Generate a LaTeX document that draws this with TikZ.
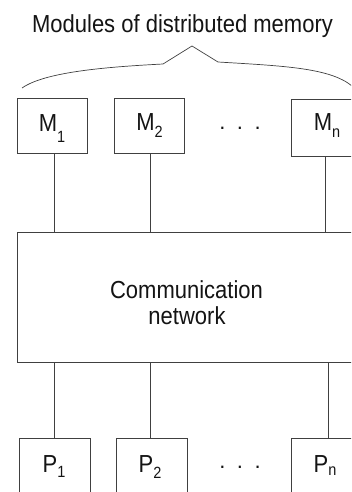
\documentclass[tikz,border=0pt]{standalone}
\usepackage{fontspec}
\usepackage{graphicx}
\setmainfont{Liberation Sans}
\definecolor{linec}{HTML}{404040}
\definecolor{textc}{HTML}{141414}
\newcommand{\tallt}[1]{\scalebox{1}[1.12]{#1}}
\newcommand{\lblsub}[3]{\tallt{#1}\raisebox{-#3pt}{\tallt{\fontsize{14.5}{14.5}\selectfont #2}}}
\tikzset{
  box/.style={draw=linec, line width=0.8pt, inner sep=0pt, minimum width=70pt, minimum height=55pt},
  netbox/.style={draw=linec, line width=0.8pt, inner sep=0pt},
  wire/.style={draw=linec, line width=0.8pt},
  lbl/.style={anchor=base, inner sep=0pt, text=textc, font=\fontsize{22}{26}\selectfont},
  dotsrow/.style={anchor=base, inner sep=0pt, text=textc, font=\fontsize{22}{26}\selectfont}
}
\begin{document}
\begin{tikzpicture}[x=1pt,y=-1pt]
\useasboundingbox (0,0) rectangle (351,492);
\clip (0,0) rectangle (351,492);
% title and brace
\node[lbl] (title) at (182.5,33) {\tallt{Modules of distributed memory}};
\draw[wire, line width=0.7pt] (22,88) .. controls (45,72) and (105,67) .. (163,64) -- (192,46) -- (218,62) .. controls (285,66) and (330,68) .. (352,86);
% memory modules
\node[box, minimum height=54.7pt] (M1) at (52.7,125.65) {};
\node[box, minimum width=70.5pt, minimum height=54.5pt] (M2) at (149.25,125.75) {};
\node[box, minimum width=71pt, minimum height=57pt] (Mn) at (326.5,127.5) {};
\node[lbl] (M1t) at (52,131.5) {\lblsub{M}{1}{11}};
\node[lbl] (M2t) at (149.5,131) {\lblsub{M}{2}{7}};
\node[lbl] (Mnt) at (327,130.5) {\lblsub{M}{n}{7}};
\node[dotsrow] (mdots) at (240,129.5) {.\hspace{11.5pt}.\hspace{11.5pt}.};
% network
\node[netbox, minimum width=345pt, minimum height=130pt] (net) at (189.5,297) {};
\node[lbl] (net1) at (186.5,298) {\tallt{Communication}};
\node[lbl] (net2) at (187,324) {\tallt{network}};
% processors
\node[box, minimum width=70.5pt, minimum height=62pt] (P1) at (54.75,469) {};
\node[box, minimum width=71pt, minimum height=62pt] (P2) at (151.5,469) {};
\node[box, minimum width=71pt, minimum height=62pt] (Pn) at (326.5,469) {};
\node[lbl] (P1t) at (54,472) {\lblsub{P}{1}{5}};
\node[lbl] (P2t) at (150,472) {\lblsub{P}{2}{6}};
\node[lbl] (Pnt) at (325,472) {\lblsub{P}{n}{3}};
\node[dotsrow] (pdots) at (240,468.5) {.\hspace{11.5pt}.\hspace{11.5pt}.};
% connectors
\coordinate (m1b) at ([xshift=1.3pt]M1.south);
\coordinate (m2b) at ([xshift=0.75pt]M2.south);
\coordinate (mnb) at ([xshift=-1.5pt]Mn.south);
\coordinate (p1t) at ([xshift=-0.75pt]P1.north);
\coordinate (p2t) at ([xshift=-1.5pt]P2.north);
\coordinate (pnt) at ([xshift=1.5pt]Pn.north);
\draw[wire] (m1b) -- (m1b |- net.north);
\draw[wire] (m2b) -- (m2b |- net.north);
\draw[wire] (mnb) -- (mnb |- net.north);
\draw[wire] (p1t) -- (p1t |- net.south);
\draw[wire] (p2t) -- (p2t |- net.south);
\draw[wire] (pnt) -- (pnt |- net.south);
\end{tikzpicture}
\end{document}
